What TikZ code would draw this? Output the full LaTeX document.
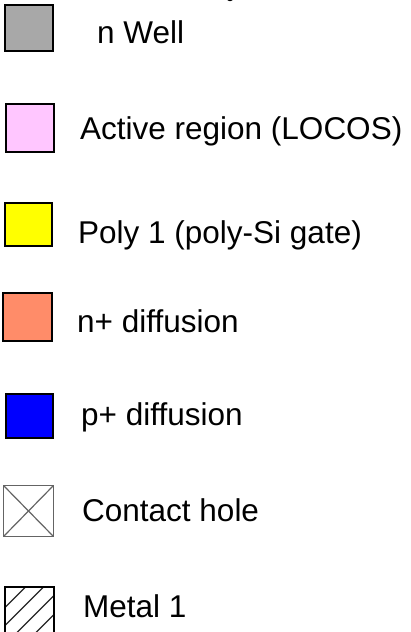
\documentclass[tikz,border=0pt]{standalone}
\usepackage{fontspec}
\setmainfont{Liberation Sans}
\usetikzlibrary{calc}
\definecolor{wellgray}{RGB}{168,168,168}
\definecolor{activepink}{RGB}{255,198,255}
\definecolor{polyyellow}{RGB}{255,255,0}
\definecolor{nplus}{RGB}{255,140,105}
\definecolor{pplus}{RGB}{0,0,255}
\definecolor{contgray}{RGB}{100,100,100}
\begin{document}
\begin{tikzpicture}[x=1pt,y=1pt,
  layerbox/.style={draw=black, line width=2pt, inner sep=0pt, outer sep=0pt},
  lbl/.style={anchor=base west, inner sep=0pt, font=\fontsize{31.5}{36}\selectfont}]
\useasboundingbox (0,0) rectangle (410,-632);
% stray mark at the top
\fill[black] (230,1) ellipse (3 and 2.2);
% boxes
\node[layerbox, fill=wellgray, minimum width=48, minimum height=46] (b1) at (29,-28) {};
\node[layerbox, fill=activepink, minimum width=48, minimum height=48] (b2) at (30,-128) {};
\node[layerbox, fill=polyyellow, minimum width=47, minimum height=43] (b3) at (28.5,-224.5) {};
\node[layerbox, fill=nplus, minimum width=49, minimum height=48] (b4) at (27.5,-317) {};
\node[layerbox, fill=pplus, minimum width=47, minimum height=44] (b5) at (29.5,-416) {};
\node[draw=contgray, line width=1.6pt, inner sep=0pt, outer sep=0pt, minimum width=50, minimum height=51] (b6) at (28.5,-511) {};
\draw[contgray, line width=1.2pt] (b6.north west) -- (b6.south east);
\draw[contgray, line width=1.2pt] (b6.south west) -- (b6.north east);
\node[layerbox, minimum width=49, minimum height=49] (b7) at (29.5,-611) {};
\begin{scope}
  \clip (b7.north west) rectangle (b7.south east);
  \foreach \c in {21,39,58,77,96} {
    \draw[black!85, line width=1.1pt] ($(b7.north west)+(\c,0)$) -- ++(-90,-90);
  }
\end{scope}
\node[layerbox, minimum width=49, minimum height=49] at (b7) {};
% labels
\node[lbl] (t1) at (97,-43) {n Well};
\node[lbl] (t2) at (80,-139) {Active region (LOCOS)};
\node[lbl] (t3) at (78,-243) {Poly 1 (poly-Si gate)};
\node[lbl] (t4) at (77,-332) {n+ diffusion};
\node[lbl] (t5) at (81,-425) {p+ diffusion};
\node[lbl] (t6) at (82,-521) {Contact hole};
\node[lbl] (t7) at (83,-617) {Metal 1};
\end{tikzpicture}
\end{document}
